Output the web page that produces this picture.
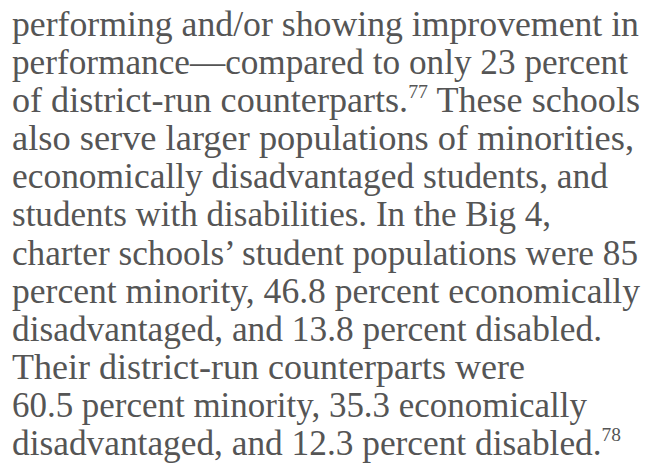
<!DOCTYPE html>
<html>
<head>
<meta charset="utf-8">
<script src="https://cdn.jsdelivr.net/npm/chart.js@4.4.1/dist/chart.umd.min.js"></script>
<style>
  html, body { margin: 0; padding: 0; background: #fff; }
  body { width: 645px; height: 466px; overflow: hidden; }
  #text {
    position: relative;
    padding: 6px 0 0 12px;
    font-family: "Liberation Serif", serif;
    font-size: 35px;
    line-height: 38.1px;
    color: #555;
  }
  .line { white-space: nowrap; }
  .line span { display: inline-block; transform-origin: left center; }
  sup { font-size: 0.55em; line-height: 0; vertical-align: 0.75em; }
</style>
</head>
<body>
<div id="text"></div>
<script>
// the figures quoted in the paragraph
const groups = ['charter', 'district-run'];
const minority = [85, 60.5];
const econDisadvantaged = [46.8, 35.3];
const disabled = [13.8, 12.3];
const districtImproving = 23;
const notes = [77, 78];

const lines = [
  'performing and/or showing improvement in',
  `performance\u2014compared to only ${districtImproving} percent`,
  `of district-run counterparts.<sup>${notes[0]}</sup> These schools`,
  'also serve larger populations of minorities,',
  'economically disadvantaged students, and',
  'students with disabilities. In the Big 4,',
  `charter schools\u2019 student populations were ${minority[0]}`,
  `percent minority, ${econDisadvantaged[0]} percent economically`,
  `disadvantaged, and ${disabled[0]} percent disabled.`,
  'Their district-run counterparts were',
  `${minority[1]} percent minority, ${econDisadvantaged[1]} economically`,
  `disadvantaged, and ${disabled[1]} percent disabled.<sup>${notes[1]}</sup>`
];

// where each line ends in the original column (layout, not data)
const lineEnds = [639, 628, 640, 634, 608, 551, 638, 640, 602, 525, 587, 621];
const left = 12;

const box = document.getElementById('text');
lines.forEach((l, i) => {
  const div = document.createElement('div');
  div.className = 'line';
  const span = document.createElement('span');
  span.innerHTML = l;
  div.appendChild(span);
  box.appendChild(div);
  // squeeze/stretch the line a bit so it fills the same width as the original
  const w = span.getBoundingClientRect().width;
  span.style.transform = `scaleX(${(lineEnds[i] - left) / w})`;
});
</script>
</body>
</html>
